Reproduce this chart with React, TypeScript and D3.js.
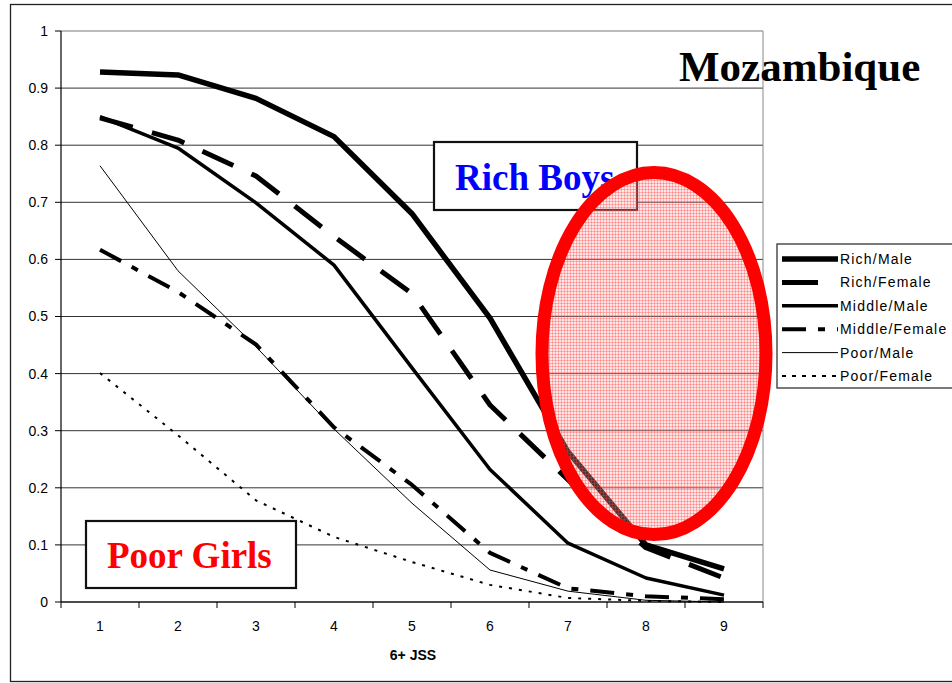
import React from "react";
import * as d3 from "d3";

const categories = ["1", "2", "3", "4", "5", "6", "7", "8", "9"];
const yTicks = [0, 0.1, 0.2, 0.3, 0.4, 0.5, 0.6, 0.7, 0.8, 0.9, 1];

const richMale = [0.928, 0.923, 0.882, 0.815, 0.68, 0.497, 0.263, 0.1, 0.058];
const richFemale = [0.848, 0.809, 0.746, 0.64, 0.54, 0.345, 0.214, 0.095, 0.042];
const middleMale = [0.85, 0.795, 0.699, 0.59, 0.41, 0.232, 0.103, 0.042, 0.012];
const middleFemale = [0.617, 0.543, 0.451, 0.306, 0.205, 0.086, 0.024, 0.01, 0.005];
const poorMale = [0.764, 0.58, 0.447, 0.303, 0.173, 0.056, 0.019, 0.003, 0.0];
const poorFemale = [0.401, 0.292, 0.178, 0.114, 0.07, 0.03, 0.007, 0.002, 0.0];

const seriesNames = ["Rich/Male", "Rich/Female", "Middle/Male", "Middle/Female", "Poor/Male", "Poor/Female"];
const seriesValues = [richMale, richFemale, middleMale, middleFemale, poorMale, poorFemale];
const seriesWidth = [5.5, 5, 3.5, 4, 1, 2];
const seriesDash = ["none", "34 20", "none", "24 12 7 12", "none", "3 7"];
const legendDash = ["none", "36 20", "none", "24 12 7 12", "none", "4 6"];

const W = 952;
const H = 683;
const plotL = 61;
const plotR = 763;
const plotT = 31;
const plotB = 602;

export default function App() {
  const x = d3.scaleBand<string>().domain(categories).range([plotL, plotR]);
  const y = d3.scaleLinear().domain([0, 1]).range([plotB, plotT]);
  const cx = (i: number) => (x(categories[i]) as number) + x.bandwidth() / 2;
  const line = d3
    .line<number>()
    .x((_, i) => cx(i))
    .y((d) => y(d));

  const sans = "'Liberation Sans', Arial, sans-serif";
  const serif = "'Liberation Serif', 'Times New Roman', serif";
  const legendX = 777;
  const legendY = 244;
  const legendStep = 23.4;

  return (
    <div style={{ position: "absolute", left: 0, top: 0 }}>
      <svg width={W} height={H} style={{ display: "block", background: "#fff" }}>
        <defs>
          <pattern id="pinkgrid" width="3" height="3" patternUnits="userSpaceOnUse">
            <rect width="3" height="3" fill="rgba(255,175,175,0.3)" />
            <rect width="1" height="3" fill="rgba(255,60,60,0.33)" />
            <rect width="3" height="1" fill="rgba(255,60,60,0.33)" />
          </pattern>
        </defs>
        {/* outer frame */}
        <rect x={10.5} y={4.5} width={960} height={677} fill="#fff" stroke="#222" strokeWidth={1.3} />

        {/* gridlines */}
        {yTicks.map((t) => (
          <line key={"g" + t} x1={plotL} x2={plotR} y1={y(t)} y2={y(t)} stroke={t === 1 ? "#777" : "#333"} strokeWidth={1} />
        ))}
        <line x1={plotR} x2={plotR} y1={plotT} y2={plotB} stroke="#888" strokeWidth={1} />

        {/* y axis */}
        <line x1={plotL} x2={plotL} y1={plotT} y2={plotB} stroke="#000" strokeWidth={1.2} />
        {yTicks.map((t) => (
          <g key={"yt" + t}>
            <line x1={plotL - 6} x2={plotL} y1={y(t)} y2={y(t)} stroke="#000" />
            <text x={48} y={y(t)} dy="0.35em" textAnchor="end" fontFamily={sans} fontSize={14}>
              {d3.format("~g")(t)}
            </text>
          </g>
        ))}

        {/* x axis */}
        <line x1={plotL} x2={plotR} y1={plotB} y2={plotB} stroke="#000" strokeWidth={1.2} />
        {categories.concat(["end"]).map((c, i) => {
          const xx = plotL + i * x.bandwidth();
          return <line key={"xt" + i} x1={xx} x2={xx} y1={plotB} y2={plotB + 6} stroke="#000" />;
        })}
        {categories.map((c, i) => (
          <text key={"xl" + c} x={cx(i)} y={626} dy="0.35em" textAnchor="middle" fontFamily={sans} fontSize={14}>
            {c}
          </text>
        ))}
        <text x={413} y={655} dy="0.35em" textAnchor="middle" fontFamily={sans} fontSize={14} fontWeight="bold">
          6+ JSS
        </text>

        {/* series */}
        {seriesValues.map((vals, k) => (
          <path
            key={"s" + k}
            d={line(vals) as string}
            fill="none"
            stroke="#000"
            strokeWidth={seriesWidth[k]}
            strokeDasharray={seriesDash[k]}
            strokeLinejoin="round"
          />
        ))}

        {/* Rich Boys box */}
        <rect x={434} y={142} width={203} height={68} fill="#fff" stroke="#111" strokeWidth={2.2} />
        <text x={455} y={190} fontFamily={serif} fontSize={37} fontWeight="bold" fill="#0000ff">
          Rich Boys
        </text>

        {/* Poor Girls box */}
        <rect x={86} y={521} width={210} height={67} fill="#fff" stroke="#111" strokeWidth={2.2} />
        <text x={107} y={568} fontFamily={serif} fontSize={37} fontWeight="bold" fill="#ff0000">
          Poor Girls
        </text>

        {/* ellipse highlight */}
        <ellipse
          cx={cx(7) + 8}
          cy={y(0.435)}
          rx={112}
          ry={181}
          fill="url(#pinkgrid)"
          stroke="#ff0000"
          strokeWidth={13}
        />

        {/* title */}
        <text x={679} y={81} fontFamily={serif} fontSize={43} fontWeight="bold" fill="#000">
          Mozambique
        </text>

        {/* legend */}
        <rect x={legendX} y={legendY} width={200} height={144} fill="#fff" stroke="#222" strokeWidth={1.2} />
        {seriesNames.map((n, k) => {
          const yy = legendY + 15 + k * legendStep;
          return (
            <g key={"lg" + k}>
              <line
                x1={782}
                x2={838}
                y1={yy}
                y2={yy}
                stroke="#000"
                strokeWidth={seriesWidth[k]}
                strokeDasharray={legendDash[k]}
              />
              <text x={840} y={yy} dy="0.35em" fontFamily={sans} fontSize={14} letterSpacing={1.2}>
                {n}
              </text>
            </g>
          );
        })}
      </svg>
    </div>
  );
}
